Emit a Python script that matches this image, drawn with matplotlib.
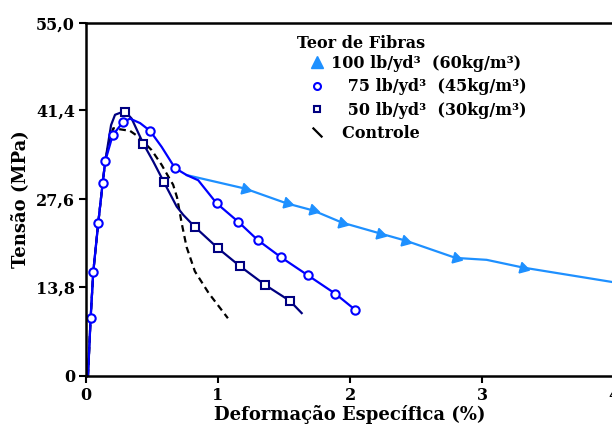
import numpy as np
import matplotlib.pyplot as plt
from matplotlib.lines import Line2D

# curves (strain %, stress MPa)
strain_100 = [0.763, 1.205, 1.52, 1.72, 1.94, 2.23, 2.42, 2.80, 3.035, 3.31, 4.0]
stress_100 = [31.3, 29.2, 26.9, 25.8, 23.9, 22.2, 21.1, 18.4, 18.1, 16.9, 14.6]
marks_100 = [1, 2, 3, 4, 5, 6, 7, 9]

strain_75 = [0.015, 0.035, 0.055, 0.093, 0.126, 0.146, 0.202, 0.278, 0.333, 0.41,
             0.485, 0.573, 0.674, 0.763, 0.85, 0.99, 1.155, 1.30, 1.477, 1.68,
             1.89, 2.04]
stress_75 = [0.0, 9.0, 16.2, 23.9, 30.0, 33.5, 37.5, 39.5, 40.1, 39.4,
             38.2, 35.7, 32.4, 31.3, 30.5, 26.9, 24.0, 21.2, 18.5, 15.7,
             12.8, 10.3]
marks_75 = [1, 2, 3, 4, 5, 6, 7, 10, 12, 15, 16, 17, 18, 19, 20, 21]

strain_50 = [0.015, 0.035, 0.055, 0.093, 0.126, 0.146, 0.19, 0.22, 0.258, 0.297,
             0.346, 0.434, 0.51, 0.588, 0.687, 0.737, 0.826, 1.0, 1.167, 1.356,
             1.545, 1.634]
stress_50 = [0.0, 9.0, 16.2, 23.9, 30.0, 33.5, 39.1, 40.7, 41.0, 41.2,
             40.1, 36.2, 33.4, 30.3, 26.4, 25.1, 23.2, 19.9, 17.1, 14.2,
             11.7, 9.8]
marks_50 = [9, 11, 13, 16, 17, 18, 19, 20]

strain_ctrl = [0.015, 0.035, 0.055, 0.093, 0.126, 0.146, 0.18, 0.207, 0.27, 0.333,
               0.396, 0.497, 0.573, 0.623, 0.66, 0.69, 0.725, 0.762, 0.825, 0.93,
               1.075]
stress_ctrl = [0.0, 9.0, 16.2, 23.9, 30.0, 33.5, 37.0, 38.6, 38.4, 38.2,
               37.3, 35.2, 32.9, 31.1, 29.8, 27.8, 23.8, 20.1, 16.3, 12.9,
               9.0]

yticks = [0, 13.8, 27.6, 41.4, 55.0]
ytick_labels = ['0', '13,8', '27,6', '41,4', '55,0']
xticks = [0, 1, 2, 3, 4]

labels = ['100 lb/yd\u00b3  (60kg/m\u00b3)',
          '\u2007 75 lb/yd\u00b3  (45kg/m\u00b3)',
          '\u2007 50 lb/yd\u00b3  (30kg/m\u00b3)',
          '\u2007Controle']

c100 = '#1E90FF'
c75 = '#0000FF'
c50 = '#000080'

plt.rcParams['font.family'] = 'DejaVu Serif'
plt.rcParams['font.weight'] = 'bold'
plt.rcParams['axes.labelweight'] = 'bold'
plt.rcParams['font.size'] = 11.5

fig = plt.figure(figsize=(6.12, 4.28), dpi=100)
ax = fig.add_axes([86 / 612, 1 - 376 / 428, 528 / 612, 353 / 428])

ax.plot(strain_ctrl, stress_ctrl, color='black', lw=1.6, ls=(0, (3, 2)))
ax.plot(strain_50, stress_50, color=c50, lw=1.6, marker='s', ms=6,
        mfc='white', mew=1.5, markevery=marks_50)
ax.plot(strain_100, stress_100, color=c100, lw=1.6, marker=(3, 0, -105), ms=9,
        markevery=marks_100)
ax.plot(strain_75, stress_75, color=c75, lw=1.6, marker='o', ms=6,
        mfc='white', mew=1.5, markevery=marks_75)

ax.set_xlim(0, 4)
ax.set_ylim(0, 55)
ax.set_xticks(xticks)
ax.set_yticks(yticks)
ax.set_yticklabels(ytick_labels)
ax.tick_params(direction='out', length=5, width=1.5, pad=3)
for s in ax.spines.values():
    s.set_linewidth(1.8)

ax.set_ylabel('Tensão (MPa)', fontsize=13, labelpad=5)
ax.set_xlabel('Deformação Específica (%)', fontsize=13, labelpad=1)

# legend
handles = [
    Line2D([], [], ls='none', marker='^', ms=8, color=c100),
    Line2D([], [], ls='none', marker='o', ms=5, mfc='white', mew=1.5, color=c75),
    Line2D([], [], ls='none', marker='s', ms=5, mfc='white', mew=1.5, color=c50),
    Line2D([], [], ls='none', marker=[(-1, 1), (1, -1)], ms=7, mew=1.6,
           color='black'),
]
ax.text(0.40, 0.943, 'Teor de Fibras', transform=ax.transAxes, va='center', ha='left')
ax.legend(handles, labels, loc='upper left', bbox_to_anchor=(0.422, 0.91),
          frameon=False, handlelength=1.0, handletextpad=0.4, labelspacing=0.4,
          borderpad=0, borderaxespad=0)

fig.savefig('out.png', dpi=100)
